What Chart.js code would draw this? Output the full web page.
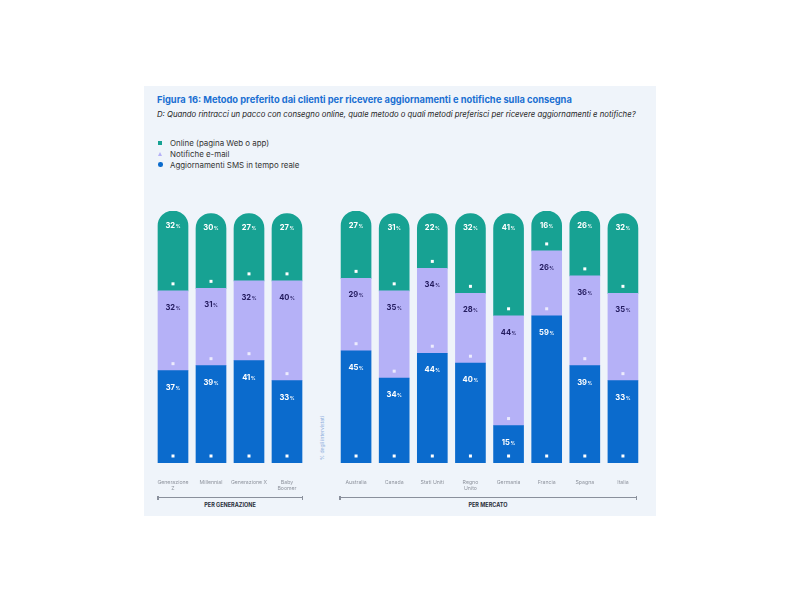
<!DOCTYPE html>
<html lang="it">
<head>
<meta charset="utf-8">
<title>Figura 16</title>
<script src="https://cdn.jsdelivr.net/npm/chart.js@4.4.1/dist/chart.umd.min.js"></script>
<style>
  body { margin: 0; width: 800px; height: 600px; background: #fff; font-family: Inter, "Noto Sans", sans-serif; position: relative; overflow: hidden; }
  .panel { position: absolute; left: 144px; top: 86px; width: 512px; height: 430px; background: #eff4fa; }
  .abs { position: absolute; white-space: nowrap; }
  .title { left: 157px; top: 94px; font-size: 9.3px; font-weight: 700; color: #1a6fd2; }
  .sub { left: 157px; top: 109px; font-size: 7.75px; font-style: italic; color: #222; }
  .leg { left: 170px; font-size: 7.9px; color: #333; }
  .mk { position: absolute; }
  .wrap { position: absolute; top: 211px; height: 282px; }
  .bracket { position: absolute; top: 497px; height: 0; border-top: 1.5px solid #8a909c; }
  .bracket::before, .bracket::after { content: ""; position: absolute; top: -2.5px; width: 1.5px; height: 4px; background: #8a909c; }
  .bracket::before { left: 0; }
  .bracket::after { right: 0; }
  .grp { top: 502px; font-size: 5.5px; font-weight: 700; color: #2a2f3a; transform: translateX(-50%); }
  .ylab { left: 322px; top: 438px; font-size: 5px; color: #8fb0dd; transform: translate(-50%, -50%) rotate(-90deg); }
</style>
</head>
<body>
<div class="panel"></div>
<div class="abs title">Figura 16: Metodo preferito dai clienti per ricevere aggiornamenti e notifiche sulla consegna</div>
<div class="abs sub">D: Quando rintracci un pacco con consegno online, quale metodo o quali metodi preferisci per ricevere aggiornamenti e notifiche?</div>

<div class="mk" style="left:158px;top:141px;width:4px;height:4px;background:#17a293"></div>
<div class="abs leg" style="top:138px">Online (pagina Web o app)</div>
<div class="mk" style="left:158px;top:152px;width:0;height:0;border-left:2.5px solid transparent;border-right:2.5px solid transparent;border-bottom:4px solid #b5b1f7"></div>
<div class="abs leg" style="top:149px">Notifiche e-mail</div>
<div class="mk" style="left:158px;top:162px;width:4.5px;height:4.5px;border-radius:50%;background:#0b6bcd"></div>
<div class="abs leg" style="top:159.5px">Aggiornamenti SMS in tempo reale</div>

<div class="wrap" style="left:154px;width:152px"><canvas id="genChart"></canvas></div>
<div class="wrap" style="left:337px;width:305px"><canvas id="mktChart"></canvas></div>

<div class="abs ylab">% degli intervistati</div>

<div class="bracket" style="left:157px;width:146px"></div>
<div class="bracket" style="left:339px;width:298px"></div>
<div class="abs grp" style="left:230px">PER GENERAZIONE</div>
<div class="abs grp" style="left:488px">PER MERCATO</div>

<script>
// Dati
const generazioni = [['Generazione', 'Z'], 'Millennial', 'Generazione X', ['Baby', 'Boomer']];
const genOnline = [32, 30, 27, 27];
const genEmail = [32, 31, 32, 40];
const genSms = [37, 39, 41, 33];

const mercati = ['Australia', 'Canada', 'Stati Uniti', ['Regno', 'Unito'], 'Germania', 'Francia', 'Spagna', 'Italia'];
const mktOnline = [27, 31, 22, 32, 41, 16, 26, 32];
const mktEmail = [29, 35, 34, 28, 44, 26, 36, 35];
const mktSms = [45, 34, 44, 40, 15, 59, 39, 33];

const COLORI = { online: '#17a293', email: '#b5b1f7', sms: '#0b6bcd' };
const FONT = 'Inter, "Noto Sans", sans-serif';

// Etichette percentuali e puntini bianchi
const etichettePlugin = {
    id: 'etichette',
    afterDatasetsDraw(chart) {
        const ctx = chart.ctx;
        chart.data.datasets.forEach((ds, i) => {
            const meta = chart.getDatasetMeta(i);
            meta.data.forEach((bar, j) => {
                const top = Math.min(bar.y, bar.base);
                const bottom = Math.max(bar.y, bar.base);
                const num = String(ds.data[j]);
                ctx.save();
                ctx.fillStyle = ds.labelColor;
                ctx.textBaseline = 'alphabetic';
                ctx.font = `700 7.6px ${FONT}`;
                const wNum = ctx.measureText(num).width;
                ctx.font = `700 4.8px ${FONT}`;
                const wPct = ctx.measureText('%').width;
                const x0 = bar.x - (wNum + wPct + 0.5) / 2;
                const yBase = top + (i === 2 ? 16.5 : 19);
                ctx.font = `700 7.6px ${FONT}`;
                ctx.textAlign = 'left';
                ctx.fillText(num, x0, yBase);
                ctx.font = `700 4.8px ${FONT}`;
                ctx.fillText('%', x0 + wNum + 0.5, yBase);
                // puntino
                ctx.fillStyle = ds.dotColor;
                ctx.fillRect(bar.x - 1.5, bottom - 8.5, 3, 3);
                ctx.restore();
            });
        });
    }
};

function creaGrafico(id, labels, sms, email, online) {
    const ctx = document.getElementById(id);
    return new Chart(ctx, {
        type: 'bar',
        data: {
            labels: labels,
            datasets: [
                { label: 'Aggiornamenti SMS in tempo reale', data: sms, backgroundColor: COLORI.sms, labelColor: '#ffffff', dotColor: '#ffffff' },
                { label: 'Notifiche e-mail', data: email, backgroundColor: COLORI.email, labelColor: '#231b5e', dotColor: 'rgba(255,255,255,0.75)' },
                { label: 'Online (pagina Web o app)', data: online, backgroundColor: COLORI.online, labelColor: '#ffffff', dotColor: '#ffffff',
                  borderRadius: { topLeft: 15, topRight: 15, bottomLeft: 0, bottomRight: 0 }, borderSkipped: false }
            ]
        },
        options: {
            responsive: true,
            maintainAspectRatio: false,
            animation: false,
            layout: { padding: 0 },
            datasets: { bar: { barThickness: 30 } },
            plugins: { legend: { display: false }, tooltip: { enabled: false } },
            scales: {
                x: {
                    stacked: true,
                    grid: { display: false },
                    border: { display: false },
                    ticks: { color: '#8f949e', font: { size: 5.2, family: FONT }, padding: 8, maxRotation: 0, autoSkip: false },
                    afterFit(scale) {
                        scale.height = 30;
                        scale.paddingLeft = 0;
                        scale.paddingRight = 0;
                    }
                },
                y: { stacked: true, display: false, min: 0, max: 101 }
            }
        },
        plugins: [etichettePlugin]
    });
}

creaGrafico('genChart', generazioni, genSms, genEmail, genOnline);
creaGrafico('mktChart', mercati, mktSms, mktEmail, mktOnline);
</script>
</body>
</html>
